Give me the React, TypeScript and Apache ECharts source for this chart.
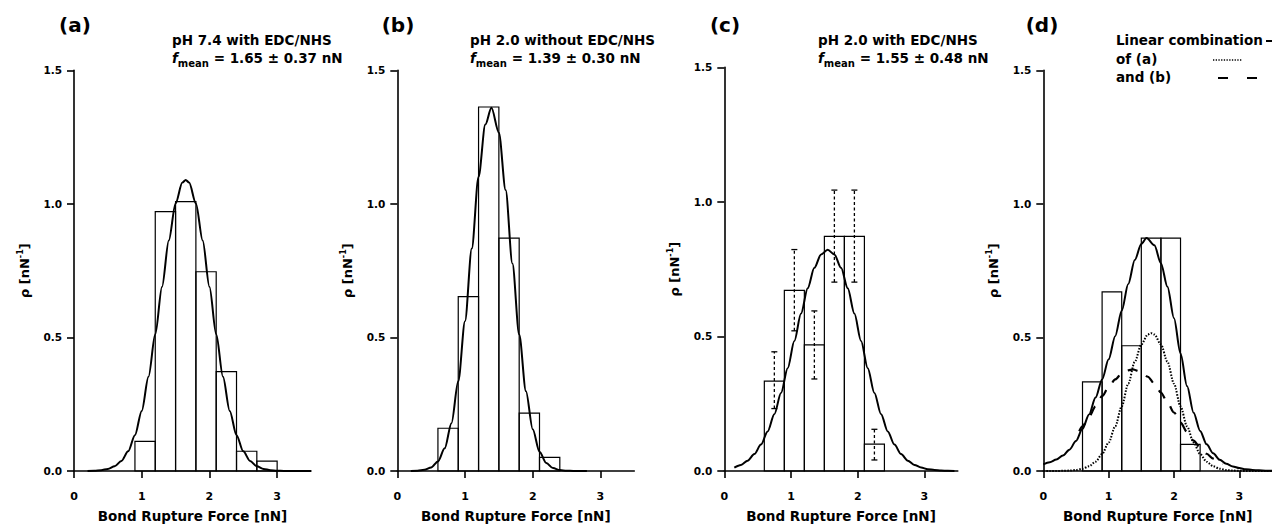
import React, { useEffect, useRef } from "react";
import * as echarts from "echarts";

const FONT = '"DejaVu Sans", sans-serif';
const BIN_W = 0.3;
const X_TICKS = [0, 1, 2, 3];

// Histograms: [bin start, density]
const histA = [[0.9, 0.111], [1.2, 0.971], [1.5, 1.009], [1.8, 0.746], [2.1, 0.372], [2.4, 0.074], [2.7, 0.037]];
const histB = [[0.6, 0.16], [0.9, 0.653], [1.2, 1.363], [1.5, 0.872], [1.8, 0.217], [2.1, 0.051]];
const histC = [[0.6, 0.334], [0.9, 0.671], [1.2, 0.469], [1.5, 0.872], [1.8, 0.872], [2.1, 0.1]];
const histD = [[0.6, 0.334], [0.9, 0.671], [1.2, 0.469], [1.5, 0.872], [1.8, 0.872], [2.1, 0.1]];
// Error bars (c): [x, low, high]
const errC = [[0.75, 0.232, 0.443], [1.05, 0.521, 0.823], [1.35, 0.342, 0.595], [1.65, 0.702, 1.044], [1.95, 0.702, 1.044], [2.25, 0.041, 0.155]];

// Fitted curves: [x, density]
const curveA = [[0.2, 0.0004], [0.3, 0.0012], [0.4, 0.0032], [0.5, 0.0078], [0.6, 0.0178], [0.7, 0.0376], [0.8, 0.0735], [0.9, 0.134], [1.0, 0.225], [1.1, 0.353], [1.2, 0.512], [1.3, 0.69], [1.4, 0.863], [1.5, 1.002], [1.6, 1.08], [1.65, 1.09], [1.7, 1.08], [1.8, 1.002], [1.9, 0.863], [2.0, 0.69], [2.1, 0.512], [2.2, 0.353], [2.3, 0.225], [2.4, 0.134], [2.5, 0.0735], [2.6, 0.0376], [2.7, 0.0178], [2.8, 0.0078], [2.9, 0.0032], [3.0, 0.0012], [3.1, 0.0004], [3.2, 0.0001], [3.3, 0], [3.4, 0], [3.5, 0]];
const curveB = [[0.2, 0.0004], [0.3, 0.0013], [0.4, 0.0045], [0.5, 0.0135], [0.6, 0.0359], [0.7, 0.085], [0.8, 0.179], [0.9, 0.336], [1.0, 0.561], [1.1, 0.833], [1.2, 1.102], [1.3, 1.297], [1.39, 1.36], [1.5, 1.267], [1.6, 1.052], [1.7, 0.777], [1.8, 0.511], [1.9, 0.299], [2.0, 0.156], [2.1, 0.072], [2.2, 0.0298], [2.3, 0.0109], [2.4, 0.0036], [2.5, 0.001], [2.6, 0.0003], [2.7, 0.0001], [2.8, 0]];
const curveC = [[0.15, 0.0128], [0.25, 0.0226], [0.35, 0.0385], [0.45, 0.0628], [0.55, 0.0982], [0.65, 0.147], [0.75, 0.211], [0.85, 0.29], [0.95, 0.382], [1.05, 0.483], [1.15, 0.585], [1.25, 0.679], [1.35, 0.755], [1.45, 0.805], [1.55, 0.822], [1.65, 0.805], [1.75, 0.755], [1.85, 0.679], [1.95, 0.585], [2.05, 0.483], [2.15, 0.382], [2.25, 0.29], [2.35, 0.211], [2.45, 0.147], [2.55, 0.0982], [2.65, 0.0628], [2.75, 0.0385], [2.85, 0.0226], [2.95, 0.0128], [3.05, 0.0069], [3.15, 0.0036], [3.25, 0.0018], [3.35, 0.0008], [3.45, 0.0004]];
const curveDSum = [[0, 0.025], [0.1, 0.033], [0.2, 0.043], [0.3, 0.058], [0.4, 0.08], [0.5, 0.112], [0.6, 0.158], [0.7, 0.212], [0.8, 0.275], [0.9, 0.343], [1.0, 0.418], [1.1, 0.505], [1.2, 0.6], [1.3, 0.7], [1.4, 0.79], [1.5, 0.85], [1.58, 0.872], [1.7, 0.845], [1.8, 0.778], [1.9, 0.69], [2.0, 0.572], [2.1, 0.44], [2.2, 0.318], [2.3, 0.218], [2.4, 0.15], [2.5, 0.1], [2.6, 0.066], [2.7, 0.042], [2.8, 0.027], [2.9, 0.017], [3.0, 0.011], [3.1, 0.0065], [3.2, 0.004], [3.3, 0.0024], [3.4, 0.0013], [3.5, 0.0008]];
const curveDA = [[0, 0], [0.1, 0], [0.2, 0.0002], [0.3, 0.0006], [0.4, 0.0015], [0.5, 0.0037], [0.6, 0.0084], [0.7, 0.0178], [0.8, 0.0348], [0.9, 0.0634], [1.0, 0.1065], [1.1, 0.167], [1.2, 0.242], [1.3, 0.327], [1.4, 0.409], [1.5, 0.474], [1.6, 0.511], [1.65, 0.516], [1.7, 0.511], [1.8, 0.474], [1.9, 0.409], [2.0, 0.327], [2.1, 0.242], [2.2, 0.167], [2.3, 0.1065], [2.4, 0.0634], [2.5, 0.0348], [2.6, 0.0178], [2.7, 0.0084], [2.8, 0.0037], [2.9, 0.0015], [3.0, 0.0006], [3.1, 0.0002], [3.2, 0], [3.3, 0], [3.4, 0], [3.5, 0]];
const curveDB = [[0.55, 0.149], [0.6, 0.167], [0.7, 0.204], [0.8, 0.242], [0.9, 0.28], [1.0, 0.314], [1.1, 0.343], [1.2, 0.365], [1.3, 0.377], [1.37, 0.38], [1.5, 0.371], [1.6, 0.353], [1.7, 0.327], [1.8, 0.294], [1.9, 0.257], [2.0, 0.219], [2.1, 0.181], [2.2, 0.146], [2.3, 0.114], [2.4, 0.087], [2.5, 0.0645], [2.6, 0.0465], [2.7, 0.0326], [2.75, 0.027]];

const panelLabels = ["(a)", "(b)", "(c)", "(d)"];
const titlesLine1 = ["pH 7.4 with EDC/NHS", "pH 2.0 without EDC/NHS", "pH 2.0 with EDC/NHS"];
const meanValues = ["1.65 ± 0.37 nN", "1.39 ± 0.30 nN", "1.55 ± 0.48 nN"];
const legendLines = ["Linear combination", "of (a)", "and (b)"];
const X_NAME = "Bond Rupture Force [nN]";

// layout
const GRIDS = [
  { left: 74, top: 70.4, width: 237, height: 408.6 },
  { left: 397.3, top: 70.4, width: 237, height: 408.6 },
  { left: 724.3, top: 67.4, width: 233.5, height: 409.6 },
  { left: 1043.3, top: 70.4, width: 236, height: 408.6 },
];
const LABEL_POS = [[75, 25], [398, 25], [725, 25], [1042, 25]];
const TITLE_POS = [[172, 40], [470, 40], [818, 40]];

function histSeries(data: number[][], idx: number) {
  return {
    type: "custom",
    xAxisIndex: idx,
    yAxisIndex: idx,
    data,
    renderItem: (params: any, api: any) => {
      const x0 = api.value(0);
      const h = api.value(1);
      const p0 = api.coord([x0, h]);
      const p1 = api.coord([x0 + BIN_W, 0]);
      return {
        type: "rect",
        shape: { x: p0[0], y: p0[1], width: p1[0] - p0[0], height: p1[1] - p0[1] },
        style: { fill: "none", stroke: "#000", lineWidth: 1.2 },
      };
    },
    z: 3,
  };
}

function lineSeries(data: number[][], idx: number, type: any, width = 2) {
  return {
    type: "line",
    xAxisIndex: idx,
    yAxisIndex: idx,
    data,
    showSymbol: false,
    symbol: "none",
    smooth: 0.3,
    smoothMonotone: "x",
    lineStyle: { color: "#000", width, type },
    z: 4,
  };
}

function errSeries(data: number[][], idx: number) {
  return {
    type: "custom",
    xAxisIndex: idx,
    yAxisIndex: idx,
    data,
    renderItem: (params: any, api: any) => {
      const x = api.value(0);
      const lo = api.coord([x, api.value(1)]);
      const hi = api.coord([x, api.value(2)]);
      const cap = 3;
      return {
        type: "group",
        children: [
          { type: "line", shape: { x1: lo[0], y1: lo[1], x2: hi[0], y2: hi[1] }, style: { stroke: "#000", lineWidth: 1.3, lineDash: [3, 2.5] } },
          { type: "line", shape: { x1: lo[0] - cap, y1: lo[1], x2: lo[0] + cap, y2: lo[1] }, style: { stroke: "#000", lineWidth: 1.3 } },
          { type: "line", shape: { x1: hi[0] - cap, y1: hi[1], x2: hi[0] + cap, y2: hi[1] }, style: { stroke: "#000", lineWidth: 1.3 } },
        ],
      };
    },
    z: 5,
  };
}

const axisText = { fontFamily: FONT, fontWeight: "bold", color: "#000" };

export default function App() {
  const ref = useRef<HTMLDivElement>(null);
  useEffect(() => {
    if (!ref.current) return;
    const chart = echarts.init(ref.current, null, { renderer: "svg" });
    const xAxes = GRIDS.map((_, i) => ({
      gridIndex: i,
      type: "value",
      min: 0,
      max: 3.5,
      axisLine: { show: true, onZero: false, lineStyle: { color: "#000", width: 1.6 } },
      axisTick: { show: true, length: 7, customValues: X_TICKS, lineStyle: { color: "#000", width: 1.6 } },
      axisLabel: { ...axisText, fontSize: 11, margin: 20, customValues: X_TICKS, formatter: (v: number) => String(v) },
      splitLine: { show: false },
      name: X_NAME,
      nameLocation: "middle",
      nameGap: 38,
      nameTextStyle: { ...axisText, fontSize: 13.5 },
    }));
    const yAxes = GRIDS.map((_, i) => ({
      gridIndex: i,
      type: "value",
      min: 0,
      max: 1.5,
      interval: 0.5,
      axisLine: { show: true, lineStyle: { color: "#000", width: 1.6 } },
      axisTick: { show: true, length: 7, lineStyle: { color: "#000", width: 1.6 } },
      axisLabel: { ...axisText, fontSize: 10.5, margin: 12, formatter: (v: number) => v.toFixed(1) },
      splitLine: { show: false },
      name: "{a|ρ [nN}{s|-1}{a|]}",
      nameLocation: "middle",
      nameGap: 44,
      nameTextStyle: {
        ...axisText,
        fontSize: 13,
        rich: {
          a: { ...axisText, fontSize: 13, lineHeight: 13, padding: [2, 0, 0, 0] },
          s: { ...axisText, fontSize: 8, lineHeight: 8, padding: [0, 0, 7, 0] },
        },
      },
    }));

    const graphic: any[] = [];
    panelLabels.forEach((t, i) => {
      graphic.push({
        type: "text",
        x: LABEL_POS[i][0],
        y: LABEL_POS[i][1],
        style: { text: t, fill: "#000", textAlign: "center", textVerticalAlign: "middle", font: `bold 20px ${FONT}` },
      });
    });
    const mainTxt = { fontFamily: FONT, fontWeight: "bold", fontSize: 13.5, lineHeight: 14, padding: [0, 0, 5, 0], fill: "#000" };
    titlesLine1.forEach((t, i) => {
      graphic.push({
        type: "text",
        x: TITLE_POS[i][0],
        y: TITLE_POS[i][1],
        style: { text: t, font: `bold 13.5px ${FONT}`, fill: "#000", textVerticalAlign: "middle" },
      });
      graphic.push({
        type: "text",
        x: TITLE_POS[i][0],
        y: TITLE_POS[i][1] + 20,
        style: {
          text: `{i|f}{s|mean}{m| = ${meanValues[i]}}`,
          fill: "#000",
          font: `bold 13.5px ${FONT}`,
          textVerticalAlign: "middle",
          rich: {
            i: { ...mainTxt, fontStyle: "italic" },
            m: { ...mainTxt },
            s: { fontFamily: FONT, fontWeight: "bold", fontSize: 10, lineHeight: 10, padding: [8, 0, 1, 0], fill: "#000" },
          },
        },
      });
    });
    // legend of (d)
    const LX = 1116;
    legendLines.forEach((t, i) => {
      graphic.push({
        type: "text",
        x: LX,
        y: 40 + i * 18.5,
        style: { text: t, font: `bold 13.5px ${FONT}`, fill: "#000", textVerticalAlign: "middle" },
      });
    });
    graphic.push({ type: "line", shape: { x1: 1266, y1: 41, x2: 1280, y2: 41 }, style: { stroke: "#000", lineWidth: 2 } });
    graphic.push({ type: "line", shape: { x1: 1213, y1: 60, x2: 1242, y2: 60 }, style: { stroke: "#000", lineWidth: 1.6, lineDash: [1.3, 1.4] } });
    graphic.push({ type: "line", shape: { x1: 1218, y1: 78, x2: 1258, y2: 78 }, style: { stroke: "#000", lineWidth: 2, lineDash: [10, 19] } });

    const option: any = {
      animation: false,
      backgroundColor: "#fff",
      grid: GRIDS.map((g) => ({ ...g, containLabel: false })),
      xAxis: xAxes,
      yAxis: yAxes,
      graphic,
      series: [
        histSeries(histA, 0),
        lineSeries(curveA, 0, "solid"),
        histSeries(histB, 1),
        lineSeries(curveB, 1, "solid"),
        histSeries(histC, 2),
        lineSeries(curveC, 2, "solid"),
        errSeries(errC, 2),
        histSeries(histD, 3),
        lineSeries(curveDSum, 3, "solid"),
        lineSeries(curveDA, 3, [1.5, 1.5], 2),
        lineSeries(curveDB, 3, [10, 10], 2.2),
      ],
    };
    chart.setOption(option);
    return () => chart.dispose();
  }, []);
  return <div ref={ref} style={{ position: "fixed", left: 0, top: 0, width: 1272, height: 528 }} />;
}
